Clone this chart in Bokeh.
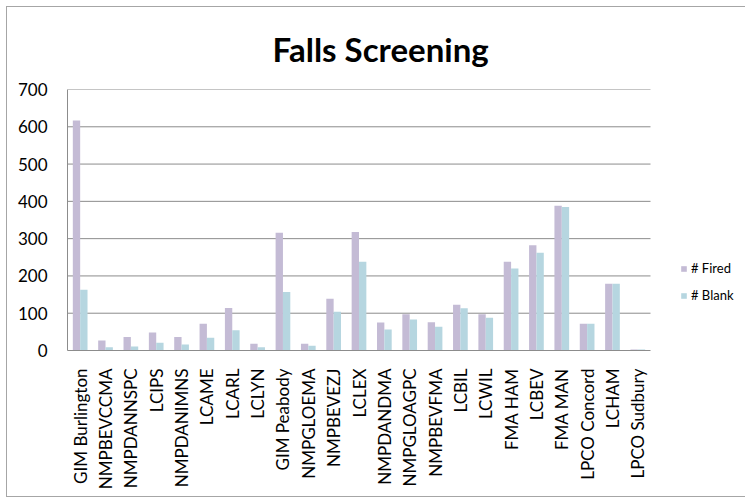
import math
from bokeh.plotting import figure
from bokeh.models import ColumnDataSource, Legend, LegendItem, Range1d, FixedTicker
from bokeh.transform import dodge
from bokeh.embed import file_html
from bokeh.resources import INLINE

categories = ["GIM Burlington", "NMPBEVCCMA", "NMPDANNSPC", "LCIPS", "NMPDANIMNS",
              "LCAME", "LCARL", "LCLYN", "GIM Peabody", "NMPGLOEMA", "NMPBEVEZJ",
              "LCLEX", "NMPDANDMA", "NMPGLOAGPC", "NMPBEVFMA", "LCBIL", "LCWIL",
              "FMA HAM", "LCBEV", "FMA MAN", "LPCO Concord", "LCHAM", "LPCO Sudbury"]
fired = [617, 27, 36, 48, 36, 72, 114, 18, 316, 18, 139, 318, 75, 97, 76, 123, 97,
         238, 282, 388, 72, 179, 3]
blank = [163, 9, 11, 21, 16, 34, 54, 9, 157, 13, 104, 238, 56, 83, 64, 113, 88,
         220, 262, 385, 72, 179, 3]
series_names = ["# Fired", "# Blank"]
y_ticks = [0, 100, 200, 300, 400, 500, 600, 700]

FIRED_COLOR = "#C4BBD5"
BLANK_COLOR = "#B6D6E0"
GRID = "#8c8c8c"
BORDER = "#a6a6a6"
FONT = "Lato"

W, H = 745, 498
LEFT, TOP, BOTTOM = 67, 89, 148
PLOT_W = 583                      # width of the category area in px
n = len(categories)
xc = [i + 0.5 for i in range(n)]
x_end = n * (W - LEFT) / PLOT_W   # extra room on the right for the legend

src = ColumnDataSource(dict(x=xc, cat=categories, fired=fired, blank=blank))

p = figure(width=W, height=H, output_backend="svg", toolbar_location=None,
           x_range=Range1d(0, x_end), y_range=Range1d(0, y_ticks[-1]),
           min_border_left=LEFT, min_border_right=0, min_border_top=TOP,
           min_border_bottom=BOTTOM)
p.border_fill_color = None

p.title.text = "Falls Screening"
p.title.text_font = FONT
p.title.text_font_style = "bold"
p.title.text_font_size = "33px"
p.title.align = "left"
p.title.offset = 205
p.title.vertical_align = "top"
p.title.standoff = 37
p.title.text_color = "black"

# horizontal gridlines across the category area only
p.segment(x0=[0] * (len(y_ticks) - 1), x1=[n] * (len(y_ticks) - 1),
          y0=y_ticks[1:], y1=y_ticks[1:], line_color=GRID, line_width=1)

r1 = p.vbar(x=dodge("x", -0.145), top="fired", width=0.29,
            source=src, fill_color=FIRED_COLOR, line_color=None)
r2 = p.vbar(x=dodge("x", 0.145), top="blank", width=0.29,
            source=src, fill_color=BLANK_COLOR, line_color=None)

p.outline_line_color = None
p.xgrid.grid_line_color = None
p.ygrid.grid_line_color = None
p.yaxis.ticker = FixedTicker(ticks=y_ticks)
p.xaxis.ticker = FixedTicker(ticks=xc)
p.xaxis.major_label_overrides = {x: c for x, c in zip(xc, categories)}
p.xaxis.bounds = (0, n)

for ax in (p.xaxis[0], p.yaxis[0]):
    ax.axis_line_color = GRID
    ax.major_tick_line_color = None
    ax.minor_tick_line_color = None
    ax.major_label_text_font = FONT
    ax.major_label_text_color = "black"
p.xaxis.major_label_text_font_size = "17px"
p.yaxis.major_label_text_font_size = "17px"

p.yaxis.major_label_standoff = 14
p.xaxis.major_label_standoff = 12
p.xaxis.major_label_orientation = math.pi / 2

legend = Legend(items=[LegendItem(label=series_names[0], renderers=[r1]),
                       LegendItem(label=series_names[1], renderers=[r2])],
                location=(613, 45), orientation="vertical",
                glyph_width=7, glyph_height=7, label_height=20, spacing=7,
                label_standoff=4, padding=0, margin=0,
                border_line_color=None, background_fill_alpha=0,
                label_text_font=FONT, label_text_font_size="13px",
                label_text_color="black")
p.add_layout(legend, "center")

line = f"linear-gradient({BORDER}, {BORDER})"
p.styles = {
    "background-image": f"{line}, {line}, {line}",
    "background-size": "1px 491px, 800px 1px, 800px 1px",
    "background-position": "6px 6px, 6px 6px, 6px 496px",
    "background-repeat": "no-repeat",
    "background-color": "white",
}

open("out.html", "w").write(file_html(p, INLINE))
